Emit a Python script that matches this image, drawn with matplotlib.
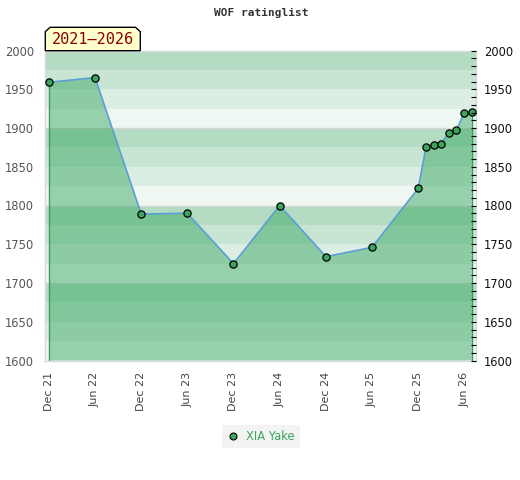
import numpy as np
import pandas as pd
import matplotlib
matplotlib.use("Agg")
import matplotlib.pyplot as plt
from matplotlib.patches import Polygon
from matplotlib.lines import Line2D
from matplotlib.ticker import MultipleLocator

# rating list dates and ratings
dates = ['2021-12-01', '2022-06-01', '2022-12-01', '2023-06-01', '2023-12-01',
         '2024-06-01', '2024-12-01', '2025-06-01', '2025-12-01', '2026-01-01',
         '2026-02-01', '2026-03-01', '2026-04-01', '2026-05-01', '2026-06-01',
         '2026-07-01']
ratings = [1959, 1965, 1789, 1790, 1725, 1800, 1734, 1746, 1822, 1875,
           1878, 1880, 1893, 1897, 1919, 1921]
player = "XIA Yake"
period = "2021\u20132026"
title = "WOF ratinglist"

W, H = 520, 480

band_cols = ['#eff7f2', '#dcede3', '#c8e5d4', '#b3dcc3']
fill_rgba = (53 / 255, 165 / 255, 93 / 255, 0.47)
edge_green = '#3b9d5e'
line_blue = '#5b9fd6'
marker_green = '#3aa55d'


def fx(px):
    return px / W


def fy(py):
    return 1 - py / H


def main():
    x = pd.to_datetime(dates)
    y = np.array(ratings)

    fig = plt.figure(figsize=(W / 100, H / 100), dpi=100)
    ax = fig.add_axes([fx(45), fy(360.5), fx(475.5) - fx(45), fy(50.5) - fy(360.5)])

    ymin, ymax = 1600, 2000
    for base in range(ymin, ymax, 100):
        for i, c in enumerate(band_cols):
            ax.axhspan(base + 25 * i, base + 25 * (i + 1), color=c, lw=0, zorder=0)
    for g in range(ymin + 100, ymax, 100):
        ax.axhline(g, color='#d6d6d6', lw=1, zorder=0.5)

    ax.fill_between(x, ymin, y, facecolor=fill_rgba, lw=0, zorder=1)
    ax.vlines([x[0], x[-1]], ymin, [y[0], y[-1]], color=edge_green, lw=1, zorder=1.5)
    ax.plot(x, y, color=line_blue, lw=1.2, zorder=2)
    ax.plot(x, y, ls='none', marker='o', ms=5.2, mfc=marker_green, mec='black',
            mew=0.9, zorder=3)

    ax.set_ylim(ymin, ymax)
    ax.set_xlim(pd.Timestamp('2021-11-15'), pd.Timestamp('2026-07-16'))

    ticks = pd.date_range('2021-12-01', '2026-06-01', freq='6MS')
    ax.set_xticks(ticks)
    ax.set_xticklabels([t.strftime('%b %y') for t in ticks], rotation=90,
                       fontsize=8, color='#444444', ha='center', va='top')
    ax.tick_params(axis='x', length=0, pad=8)

    ax.yaxis.set_major_locator(MultipleLocator(50))
    ax.tick_params(axis='y', length=0, pad=8, labelsize=8.3, labelcolor='#555555')

    for s in ax.spines.values():
        s.set_color('#d9d9d9')
        s.set_linewidth(1)

    ax2 = ax.twinx()
    ax2.set_ylim(ymin, ymax)
    ax2.yaxis.set_major_locator(MultipleLocator(50))
    ax2.yaxis.set_minor_locator(MultipleLocator(10))
    ax2.tick_params(axis='y', which='both', direction='in', length=3.5, width=0.8,
                    color='black', pad=6, labelsize=8.3, labelcolor='#111111')
    for s in ax2.spines.values():
        s.set_visible(False)

    fig.text(fx(261), fy(13), title, ha='center', va='center',
             family='DejaVu Sans Mono', weight='bold', fontsize=8, color='#333333')

    # period tag above the plot
    pts = [(45.3, 50.7), (45.3, 31.7), (50, 27.3), (135.5, 27.3), (140.3, 31.7), (140.3, 50.7)]
    fig.add_artist(Polygon([(fx(a), fy(b)) for a, b in pts], closed=True,
                           transform=fig.transFigure, facecolor='#ffffcc',
                           edgecolor='black', lw=1, zorder=5))
    fig.text(fx(92.5), fy(39.5), period, ha='center', va='center',
             family='DejaVu Sans Mono', fontsize=11, color='#8b0000', zorder=6)

    handle = Line2D([], [], ls='none', marker='o', ms=5, mfc=marker_green,
                    mec='black', mew=0.8)
    leg = fig.legend([handle], [player], loc='center', bbox_to_anchor=(fx(261), fy(436.5)),
                     frameon=True, fontsize=8.3, handlelength=1, handletextpad=0.6,
                     borderpad=0.45, fancybox=False)
    leg.get_frame().set_facecolor('#f0f0f0')
    leg.get_frame().set_edgecolor('none')
    for t in leg.get_texts():
        t.set_color('#3aa55d')

    fig.savefig('out.png', dpi=100)


if __name__ == "__main__":
    main()
